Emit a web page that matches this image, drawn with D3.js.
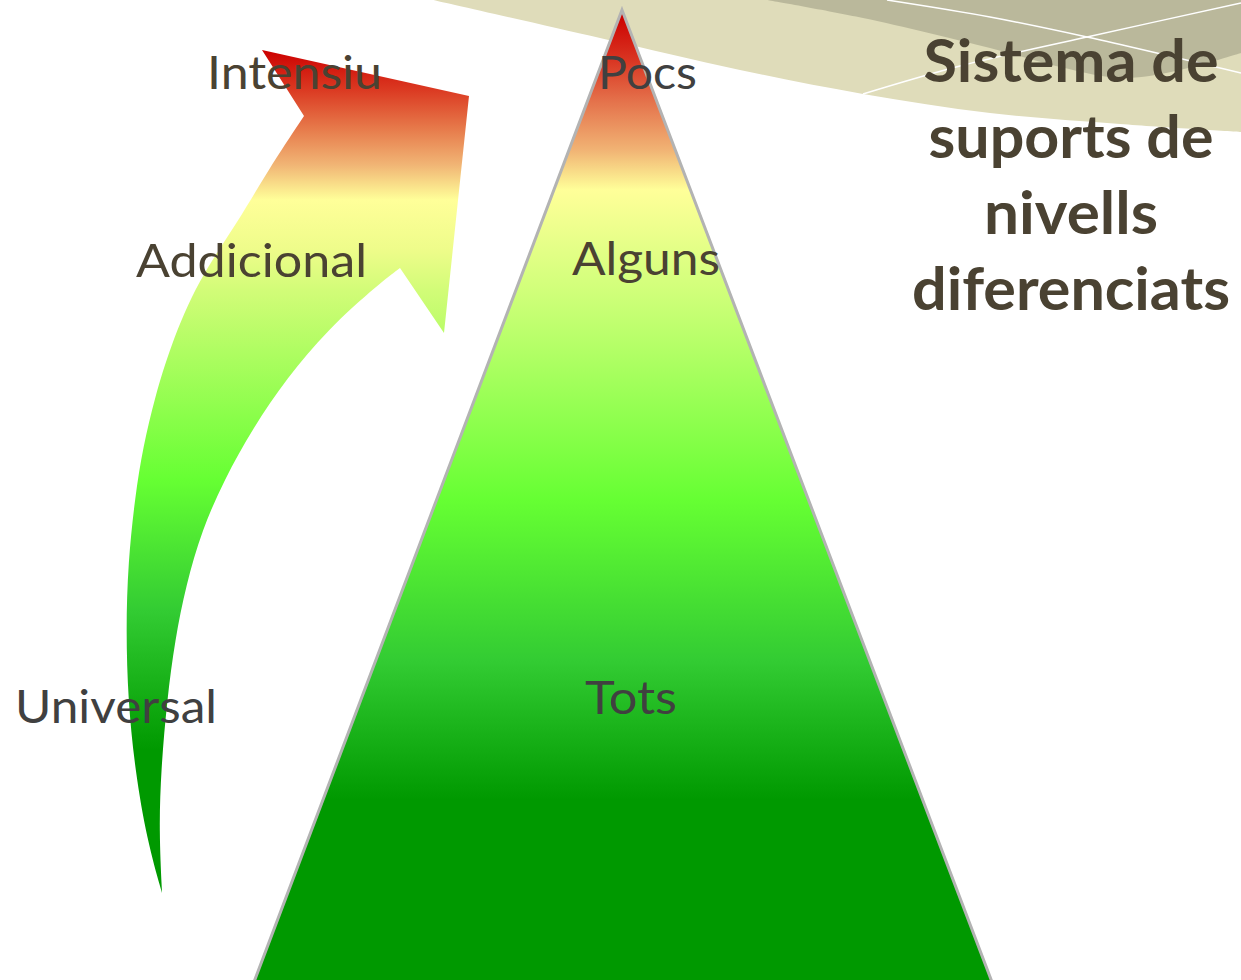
<!DOCTYPE html>
<html>
<head>
<meta charset="utf-8">
<script src="https://cdn.jsdelivr.net/npm/d3@7"></script>
<style>
  html, body { margin: 0; padding: 0; background: #fff; }
  svg { display: block; }
</style>
</head>
<body>
<svg class="diagram"></svg>
<script>
// labels of the two figures, bottom level first
var arrowLevels = ['Universal', 'Addicional', 'Intensiu']
var pyramidGroups = ['Tots', 'Alguns', 'Pocs']
var titleLines = ['Sistema de', 'suports de', 'nivells', 'diferenciats']

var w = 1241, h = 980

var svg = d3.select('.diagram')
    .attr('width', w)
    .attr('height', h)

var defs = svg.append('defs')

// vertical colour ramp, red at the top down to green
function ramp(id, stops) {
  var g = defs.append('linearGradient')
      .attr('id', id)
      .attr('gradientUnits', 'userSpaceOnUse')
      .attr('x1', 0).attr('x2', 0)
      .attr('y1', 0).attr('y2', h)
  g.selectAll('stop')
      .data(stops)
    .enter().append('stop')
      .attr('offset', function(d) { return d[0] / h })
      .attr('stop-color', function(d) { return d[1] })
}

ramp('arrowFill', [
  [50, '#cc0000'], [90, '#db3a22'], [130, '#e77c4c'], [165, '#f1b575'],
  [200, '#ffff99'], [250, '#eefc8a'], [290, '#d2fc78'], [480, '#66ff33'],
  [610, '#33cc33'], [750, '#009900']
])
ramp('pyramidFill', [
  [15, '#cc0000'], [60, '#d93522'], [100, '#e4704a'], [150, '#f1b374'],
  [190, '#ffff99'], [300, '#ccff77'], [500, '#66ff33'], [660, '#33cc33'],
  [800, '#009900']
])

var smooth = d3.line().curve(d3.curveCatmullRom)
var soft = d3.line().curve(d3.curveBasis)
var straight = d3.line()

// decorative swoosh, top right
svg.append('path')
    .attr('d', smooth([[433, 0], [600, 38], [740, 70], [863, 94], [990, 113], [1120, 124], [1241, 132]]) + 'L1241,0Z')
    .attr('fill', '#dfdcba')

svg.append('path')
    .attr('d', smooth([[767, 0], [863, 18], [990, 48], [1060, 67], [1123, 78], [1180, 70], [1241, 53]]) + 'L1241,0Z')
    .attr('fill', '#bab89b')

svg.append('path')
    .attr('d', smooth([[863, 94], [960, 66], [1087, 37], [1241, 3]]))
    .attr('fill', 'none')
    .attr('stroke', '#fff')
    .attr('stroke-width', 1.5)

svg.append('path')
    .attr('d', smooth([[887, 0], [990, 17], [1087, 37], [1241, 73]]))
    .attr('fill', 'none')
    .attr('stroke', '#fff')
    .attr('stroke-width', 1.5)

// curved arrow: outer edge up from the tail, the head, inner edge back down
var outer = [[162, 893], [147, 840], [135, 770], [128, 700], [126, 630], [128, 563],
             [135, 497], [143, 447], [155, 397], [170, 347], [198, 280], [238, 222],
             [268, 170], [304, 116]]
var head = [[262, 50], [469, 96], [444, 333], [400, 268]]
var inner = [[400, 268], [380, 283], [327, 330], [287, 378], [253, 428], [224, 480],
             [202, 530], [186, 585], [175, 640], [167, 700], [161, 770], [159, 830],
             [162, 893]]

svg.append('path')
    .attr('d', soft(outer) + straight(head).replace('M', 'L') +
               soft(inner).replace('M', 'L') + 'Z')
    .attr('fill', 'url(#arrowFill)')

// pyramid
svg.append('path')
    .attr('d', straight([[622, 10], [992, 982], [254, 982]]) + 'Z')
    .attr('fill', 'url(#pyramidFill)')
    .attr('stroke', '#b3b3b3')
    .attr('stroke-width', 3)

// labels
var labelFont = 'Lato, "Open Sans", sans-serif'

var arrowPos = [{x: 15, y: 723, len: 202, c: '#404040'},
                {x: 136, y: 277, len: 231, c: '#4a4232'},
                {x: 207, y: 89, len: 175, c: '#4a4232'}]

svg.selectAll('text.level')
    .data(arrowLevels)
  .enter().append('text')
    .attr('class', 'level')
    .attr('x', function(d, i) { return arrowPos[i].x })
    .attr('y', function(d, i) { return arrowPos[i].y })
    .attr('textLength', function(d, i) { return arrowPos[i].len })
    .attr('lengthAdjust', 'spacingAndGlyphs')
    .style('font-family', labelFont)
    .style('font-size', '46px')
    .style('fill', function(d, i) { return arrowPos[i].c })
    .text(function(d) { return d })

var pyramidPos = [{x: 585, y: 714, len: 92, c: '#404040'},
                  {x: 572, y: 275, len: 148, c: '#4a4232'},
                  {x: 598, y: 89, len: 99, c: '#404040'}]

svg.selectAll('text.group')
    .data(pyramidGroups)
  .enter().append('text')
    .attr('class', 'group')
    .attr('x', function(d, i) { return pyramidPos[i].x })
    .attr('y', function(d, i) { return pyramidPos[i].y })
    .attr('textLength', function(d, i) { return pyramidPos[i].len })
    .attr('lengthAdjust', 'spacingAndGlyphs')
    .style('font-family', labelFont)
    .style('font-size', '46px')
    .style('fill', function(d, i) { return pyramidPos[i].c })
    .text(function(d) { return d })

// title
var titleLens = [295, 285, 174, 318]

svg.selectAll('text.title')
    .data(titleLines)
  .enter().append('text')
    .attr('class', 'title')
    .attr('x', 1071)
    .attr('y', function(d, i) { return 82 + i * 76 })
    .attr('text-anchor', 'middle')
    .attr('textLength', function(d, i) { return titleLens[i] })
    .attr('lengthAdjust', 'spacingAndGlyphs')
    .style('font-family', labelFont)
    .style('font-weight', 'bold')
    .style('font-size', '60px')
    .style('fill', '#4a4232')
    .text(function(d) { return d })
</script>
</body>
</html>
